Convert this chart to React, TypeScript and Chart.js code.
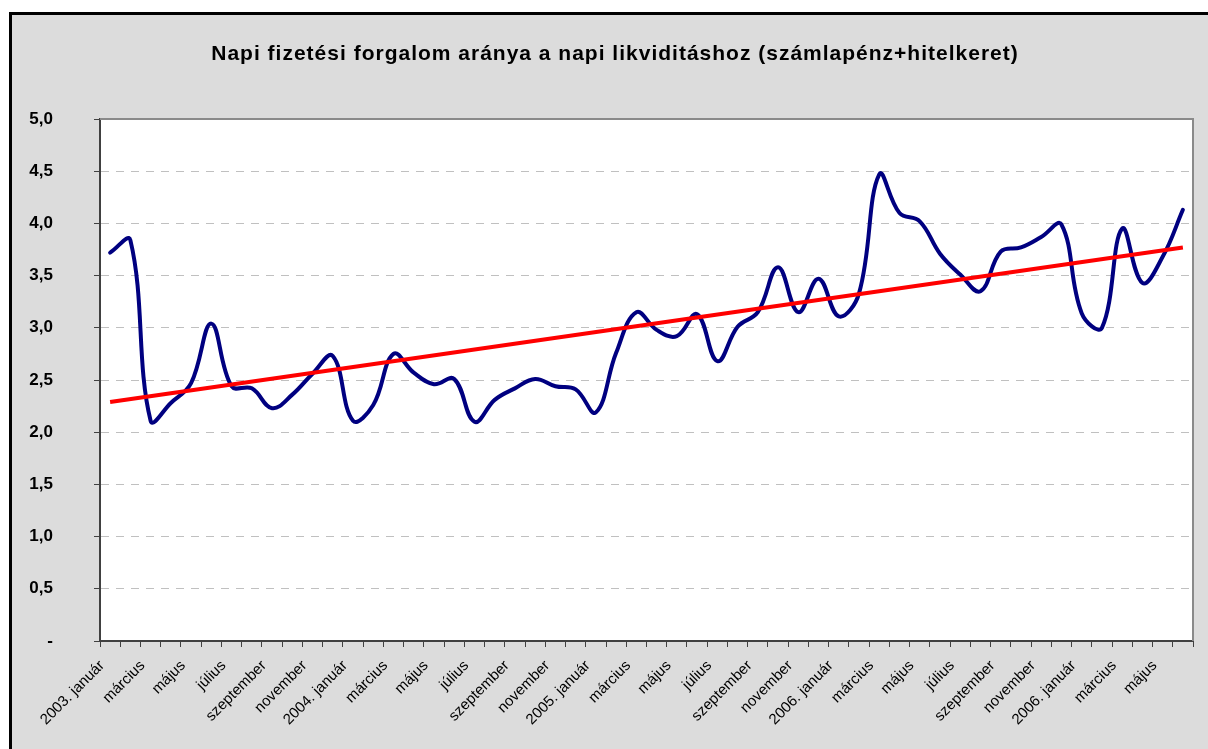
import React, { useEffect, useRef } from "react";
import { Chart, registerables } from "chart.js";

Chart.register(...registerables);

const chartTitle =
  "Napi fizetési forgalom aránya a napi likviditáshoz (számlapénz+hitelkeret)";

const months: string[] = [
  "2003. január", "február", "március", "április", "május", "június",
  "július", "augusztus", "szeptember", "október", "november", "december",
  "2004. január", "február", "március", "április", "május", "június",
  "július", "augusztus", "szeptember", "október", "november", "december",
  "2005. január", "február", "március", "április", "május", "június",
  "július", "augusztus", "szeptember", "október", "november", "december",
  "2006. január", "február", "március", "április", "május", "június",
  "július", "augusztus", "szeptember", "október", "november", "december",
  "2006. január", "február", "március", "április", "május", "június",
];

const ratioValues: number[] = [
  3.72, 3.84, 2.11, 2.28, 2.47, 3.04, 2.44, 2.42, 2.23, 2.36,
  2.56, 2.73, 2.11, 2.26, 2.75, 2.57, 2.46, 2.51, 2.10, 2.31,
  2.42, 2.51, 2.44, 2.41, 2.19, 2.76, 3.15, 2.98, 2.92, 3.13,
  2.68, 3.01, 3.15, 3.58, 3.15, 3.47, 3.11, 3.33, 4.47, 4.10,
  4.02, 3.71, 3.51, 3.35, 3.73, 3.77, 3.87, 3.99, 3.14, 3.00,
  3.95, 3.43, 3.68, 4.13,
];

const trendStart = 2.29;
const trendEnd = 3.77;

const yMin = 0;
const yMax = 5;
const yStep = 0.5;

const FONT = 'Arial, "Liberation Sans", sans-serif';

export default function App() {
  const ref = useRef<HTMLCanvasElement>(null);

  useEffect(() => {
    const last = months.length - 1;
    const trendData = months.map((_, i) =>
      i === 0 ? trendStart : i === last ? trendEnd : null
    );

    const framePlugin = {
      id: "framePlugin",
      beforeDraw(chart: any) {
        const { ctx, chartArea } = chart;
        ctx.save();
        ctx.fillStyle = "#ffffff";
        ctx.fillRect(
          chartArea.left,
          chartArea.top,
          chartArea.right - chartArea.left,
          chartArea.bottom - chartArea.top
        );
        ctx.restore();
      },
      beforeDatasetsDraw(chart: any) {
        const { ctx, chartArea } = chart;
        ctx.save();
        ctx.strokeStyle = "#8a8a8a";
        ctx.lineWidth = 2;
        ctx.beginPath();
        ctx.moveTo(chartArea.left, chartArea.top);
        ctx.lineTo(chartArea.right, chartArea.top);
        ctx.lineTo(chartArea.right, chartArea.bottom);
        ctx.stroke();
        ctx.restore();
      },
      afterDraw(chart: any) {
        const { ctx } = chart;
        ctx.save();
        ctx.fillStyle = "#000000";
        ctx.font = `bold 21px ${FONT}`;
        try {
          (ctx as any).letterSpacing = "1px";
        } catch (e) {}
        ctx.textAlign = "center";
        ctx.textBaseline = "middle";
        ctx.fillText(chartTitle, 615, 54);
        ctx.restore();
      },
    };

    const chart = new Chart(ref.current!, {
      type: "line",
      data: {
        labels: months,
        datasets: [
          {
            label: "Trend",
            data: trendData as any,
            borderColor: "#ff0000",
            borderWidth: 4,
            pointRadius: 0,
            spanGaps: true,
            tension: 0,
            order: 0,
          },
          {
            label: "Arány",
            data: ratioValues,
            borderColor: "#000080",
            borderWidth: 4,
            pointRadius: 0,
            tension: 0.4,
            order: 1,
            borderCapStyle: "round",
            borderJoinStyle: "round",
          },
        ],
      },
      options: {
        animation: false,
        responsive: false,
        maintainAspectRatio: false,
        layout: { padding: { top: 119, left: 0, right: 15, bottom: 0 } },
        plugins: {
          legend: { display: false },
          title: { display: false },
          tooltip: { enabled: false },
        },
        scales: {
          x: {
            type: "category",
            offset: true,
            afterFit(scale: any) {
              scale.height = 108;
            },
            grid: {
              offset: true,
              drawOnChartArea: false,
              drawTicks: true,
              tickLength: 6,
              tickColor: "#404040",
              tickWidth: 1,
            },
            border: { color: "#404040", width: 2 },
            ticks: {
              autoSkip: false,
              maxRotation: 45,
              minRotation: 45,
              padding: 10,
              labelOffset: -8,
              color: "#000000",
              font: { family: FONT, size: 15 },
              callback: (_v: any, i: number) => (i % 2 === 0 ? months[i] : ""),
            },
          },
          y: {
            min: yMin,
            max: yMax,
            afterFit(scale: any) {
              scale.width = 100;
            },
            grid: {
              color: (c: any) =>
                c.tick && (c.tick.value === yMin || c.tick.value === yMax)
                  ? "rgba(0,0,0,0)"
                  : "#c0c0c0",
              lineWidth: 1,
              drawTicks: true,
              tickLength: 6,
              tickColor: "#404040",
              tickWidth: 1,
              tickBorderDash: [],
            },
            border: { color: "#404040", width: 2, dash: [8, 7] },
            ticks: {
              stepSize: yStep,
              padding: 41,
              color: "#000000",
              font: { family: FONT, size: 17, weight: "bold" },
              callback: (v: any) =>
                Number(v) === 0 ? "-" : Number(v).toFixed(1).replace(".", ","),
            },
          },
        },
      },
      plugins: [framePlugin],
    });

    return () => chart.destroy();
  }, []);

  return (
    <>
      <div
        style={{
          position: "fixed",
          left: 9,
          top: 12,
          width: 1199,
          height: 737,
          boxSizing: "border-box",
          borderTop: "3px solid #000",
          borderLeft: "3px solid #000",
          background: "#dcdcdc",
        }}
      />
      <div style={{ position: "fixed", left: 0, top: 0, width: 1208, height: 749 }}>
        <canvas
          ref={ref}
          width={1208}
          height={749}
          style={{ display: "block", width: 1208, height: 749 }}
        />
      </div>
    </>
  );
}
